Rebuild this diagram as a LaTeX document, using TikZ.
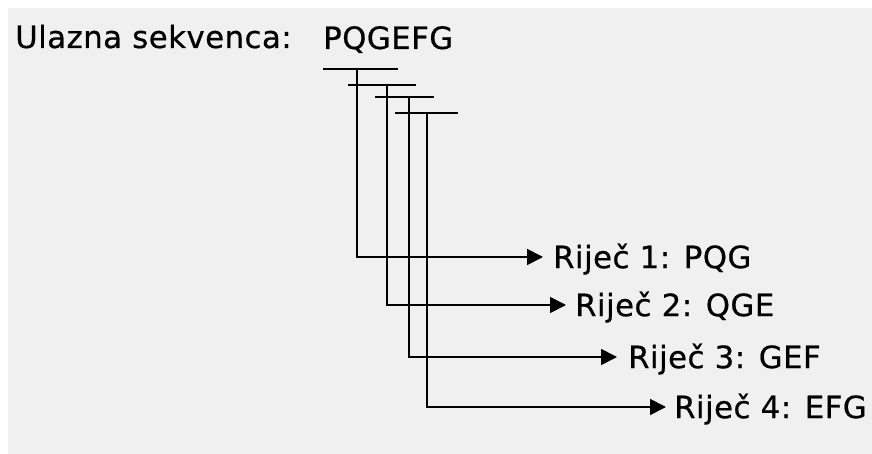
\documentclass[tikz,border=0pt]{standalone}
\usepackage{fontspec}
\setmainfont{DejaVu Sans}[LetterSpace=1.5, FakeBold=0.6]
\usetikzlibrary{arrows.meta}
\definecolor{bg}{HTML}{F0F0F0}
\begin{document}
\begin{tikzpicture}[x=1pt,y=-1pt,
  txt/.style={inner sep=0pt, font=\fontsize{30.8}{36}\selectfont},
  wlabel/.style={txt, anchor=west, text height=22.3pt, text depth=0pt},
  bracket/.style={line width=1.8pt, black},
  conn/.style={line width=1.8pt, black, -{Triangle[length=16pt,width=16pt]}}]
\useasboundingbox (0,0) rectangle (872,454);
\fill[white] (0,0) rectangle (872,454);
\fill[bg] (8,8) rectangle (872,454);
% texts
\node[txt, anchor=base west] (title) at (15,48) {Ulazna sekvenca:};
\node[txt, anchor=base west] (seq) at (323,49) {PQGEFG};
\node[wlabel] (w1) at (553,257) {Riječ 1: PQG};
\node[wlabel] (w2) at (575,305) {Riječ 2: QGE};
\node[wlabel] (w3) at (628,357) {Riječ 3: GEF};
\node[wlabel] (w4) at (674,407) {Riječ 4: EFG};
% brackets
\coordinate (b1) at (357,69);
\coordinate (b2) at (387,85);
\coordinate (b3) at (409,97);
\coordinate (b4) at (427,113);
\draw[bracket] (323,69) -- (398,69);
\draw[bracket] (348,85) -- (416,85);
\draw[bracket] (375,97) -- (434,97);
\draw[bracket] (395,113) -- (458,113);
% connectors
\draw[conn] (b1) |- ([xshift=-10pt]w1.west);
\draw[conn] (b2) |- ([xshift=-9pt]w2.west);
\draw[conn] (b3) |- ([xshift=-11pt]w3.west);
\draw[conn] (b4) |- ([xshift=-8pt]w4.west);
\end{tikzpicture}
\end{document}
